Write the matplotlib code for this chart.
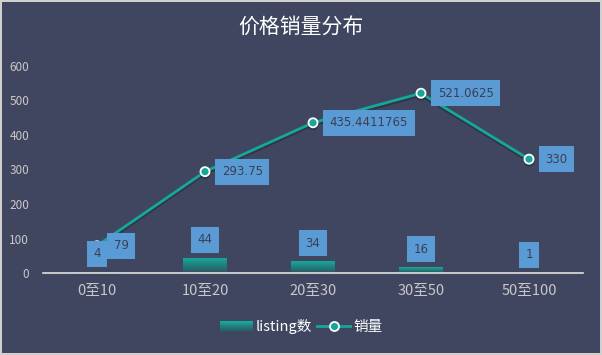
import matplotlib
matplotlib.use('Agg')
import matplotlib.pyplot as plt
import numpy as np
from matplotlib.colors import LinearSegmentedColormap, to_rgb
from matplotlib.patches import Rectangle
from matplotlib.lines import Line2D
from matplotlib.legend_handler import HandlerBase
import matplotlib.patheffects as pe

plt.rcParams['font.family'] = ['Noto Sans CJK SC', 'DejaVu Sans']

# data
categories = ['0至10', '10至20', '20至30', '30至50', '50至100']
listing_counts = [4, 44, 34, 16, 1]
sales = [79, 293.75, 435.4411765, 521.0625, 330]
sales_labels = ['79', '293.75', '435.4411765', '521.0625', '330']
y_ticks = [0, 100, 200, 300, 400, 500, 600]

bg = '#414660'
teal = '#13a89a'
bar_top = '#14ab9b'
bar_bottom = '#2f5461'
box_color = '#5b9bd5'
label_text = '#3a3f55'
tick_color = '#c8c8c8'

grad = LinearSegmentedColormap.from_list('bar_grad', [bar_bottom, bar_top])

fig = plt.figure(figsize=(6.02, 3.55), dpi=100)
fig.patch.set_facecolor(bg)
fig.patch.set_edgecolor('#d0d0d0')
fig.patch.set_linewidth(1.5)

ax = fig.add_axes([43 / 602, 1 - 273 / 355, 540 / 602, 207 / 355])
ax.set_facecolor(bg)
ax.set_xlim(-0.5, len(categories) - 0.5)
ax.set_ylim(0, 600)

# gradient bars
x = np.arange(len(categories))
bar_w = 0.4
bars = ax.bar(x, listing_counts, width=bar_w, color='none', zorder=2)
gimg = np.linspace(1, 0, 64).reshape(-1, 1)
for b in bars:
    x0, h = b.get_x(), b.get_height()
    im = ax.imshow(gimg, cmap=grad, aspect='auto', zorder=2,
                   extent=(x0, x0 + b.get_width(), 0, h))
    im.set_clip_path(b)

for xi, v in zip(x, listing_counts):
    ax.annotate(str(v), (xi, v), xytext=(0, 13), textcoords='offset points',
                ha='center', va='center', fontsize=8.5, color=label_text,
                family=['DejaVu Sans'], zorder=6,
                bbox=dict(boxstyle='square,pad=0.55', fc=box_color, ec='none'))

# sales line, with a soft shadow
ax.plot(x, sales, color=teal, lw=2.0, zorder=4, marker='o', markersize=6.5,
        markerfacecolor=teal, markeredgecolor='white', markeredgewidth=1.3,
        clip_on=False,
        path_effects=[pe.SimpleLineShadow(offset=(0, -1.5), shadow_color='black',
                                          alpha=0.25), pe.Normal()])
for xi, v, s in zip(x, sales, sales_labels):
    ax.annotate(s, (xi, v), xytext=(12, 0), textcoords='offset points',
                ha='left', va='center', fontsize=8.5, color=label_text,
                family=['DejaVu Sans'], zorder=6,
                bbox=dict(boxstyle='square,pad=0.55', fc=box_color, ec='none'))

# axes styling
for side in ['top', 'right', 'left']:
    ax.spines[side].set_visible(False)
ax.spines['bottom'].set_color('#e0e0e0')
ax.spines['bottom'].set_linewidth(1.2)
ax.set_xticks(x)
ax.set_xticklabels(categories)
ax.set_yticks(y_ticks)
ax.tick_params(axis='x', length=0, pad=8, colors=tick_color, labelsize=10.5)
ax.tick_params(axis='y', length=0, pad=10, colors=tick_color, labelsize=8.5)

fig.text(0.5, 1 - 28 / 355, '价格销量分布', ha='center', va='center',
         color='white', fontsize=15)


# legend with gradient swatch
class GradHandler(HandlerBase):
    def create_artists(self, legend, orig, xd, yd, w, h, fontsize, trans):
        n = 12
        c0, c1 = np.array(to_rgb(bar_top)), np.array(to_rgb(bar_bottom))
        arts = []
        for i in range(n):
            c = c0 + (c1 - c0) * i / (n - 1)
            r = Rectangle((xd, yd + h - (i + 1) * h / n), w, h / n + 0.05,
                          fc=c, ec='none', transform=trans)
            arts.append(r)
        return arts


bar_handle = Rectangle((0, 0), 1, 1)
line_handle = Line2D([], [], color=teal, lw=2.0, marker='o', markersize=6.5,
                     markerfacecolor=teal, markeredgecolor='white',
                     markeredgewidth=1.3)
leg = fig.legend([bar_handle, line_handle], ['listing数', '销量'],
                 loc='center', bbox_to_anchor=(0.5, 1 - 327 / 355), ncol=2,
                 frameon=False, fontsize=10.5, labelcolor='white',
                 handlelength=2.3, handletextpad=0.2, columnspacing=0.3,
                 handler_map={Rectangle: GradHandler()})

fig.savefig('out.png', dpi=100, facecolor=bg, edgecolor='#d0d0d0')
